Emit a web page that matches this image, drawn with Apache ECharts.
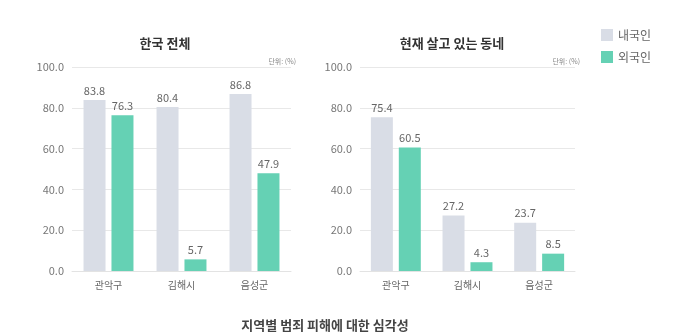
<!DOCTYPE html>
<html><head><meta charset="utf-8">
<script src="https://cdn.jsdelivr.net/npm/echarts@6/dist/echarts.min.js"></script>
<style>html,body{margin:0;padding:0;background:#fff}#c{width:680px;height:336px}</style>
</head><body><div id="c"></div>
<script>
const categories = ['관악구', '김해시', '음성군'];
const seriesNames = ['내국인', '외국인'];
const koreaDomestic = [83.8, 80.4, 86.8];
const koreaForeign = [76.3, 5.7, 47.9];
const localDomestic = [75.4, 27.2, 23.7];
const localForeign = [60.5, 4.3, 8.5];
const panelTitles = ['한국 전체', '현재 살고 있는 동네'];
const mainTitle = '지역별 범죄 피해에 대한 심각성';
const unitText = '단위: (%)';

const FONT = '"Noto Sans CJK KR", "Noto Sans", sans-serif';
const GREY = '#d9dde6', GREEN = '#65d1b4';
const chart = echarts.init(document.getElementById('c'));
const grids = [{left: 72, right: 389, top: 67, bottom: 65}, {left: 360, right: 105, top: 67, bottom: 65}];
function xAxis(i){return {type:'category', gridIndex:i, data:categories,
  axisLine:{lineStyle:{color:'#e3e3e3'}}, axisTick:{show:false},
  axisLabel:{color:'#666', fontSize:10, fontFamily:FONT, margin:9}};}
function yAxis(i){return {type:'value', gridIndex:i, min:0, max:100, interval:20,
  axisLine:{show:false}, axisTick:{show:false},
  axisLabel:{color:'#777', fontSize:11, fontFamily:FONT, margin:8, formatter:v=>v.toFixed(1)},
  splitLine:{lineStyle:{color:'#e8e8e8'}}};}
function bar(name, data, i, color){return {name, type:'bar', xAxisIndex:i, yAxisIndex:i, data,
  barWidth:22, barGap:'27%', itemStyle:{color},
  label:{show:true, position:'top', color:'#666', fontSize:11, fontFamily:FONT, distance:4, formatter:p=>p.value.toFixed(1)}};}
chart.setOption({
  animation:false,
  title:[
    {text:panelTitles[0], left:160, top:32, textAlign:'center', textStyle:{fontSize:13, fontWeight:'bold', color:'#333', fontFamily:FONT}},
    {text:panelTitles[1], left:447, top:32, textAlign:'center', textStyle:{fontSize:13, fontWeight:'bold', color:'#333', fontFamily:FONT}},
    {text:mainTitle, left:320, top:314, textAlign:'center', textStyle:{fontSize:13, fontWeight:'bold', color:'#444', fontFamily:FONT}},
    {text:unitText, left:291, top:53, textAlign:'right', textStyle:{fontSize:7, fontWeight:'normal', color:'#888', fontFamily:FONT}},
    {text:unitText, left:575, top:53, textAlign:'right', textStyle:{fontSize:7, fontWeight:'normal', color:'#888', fontFamily:FONT}}
  ],
  legend:{data:seriesNames, orient:'vertical', left:596, top:24, itemWidth:12, itemHeight:12, itemGap:10,
    icon:'rect', textStyle:{color:'#666', fontSize:12, fontFamily:FONT}},
  grid:grids,
  xAxis:[xAxis(0), xAxis(1)],
  yAxis:[yAxis(0), yAxis(1)],
  series:[bar(seriesNames[0], koreaDomestic, 0, GREY), bar(seriesNames[1], koreaForeign, 0, GREEN),
          bar(seriesNames[0], localDomestic, 1, GREY), bar(seriesNames[1], localForeign, 1, GREEN)]
});
</script></body></html>
